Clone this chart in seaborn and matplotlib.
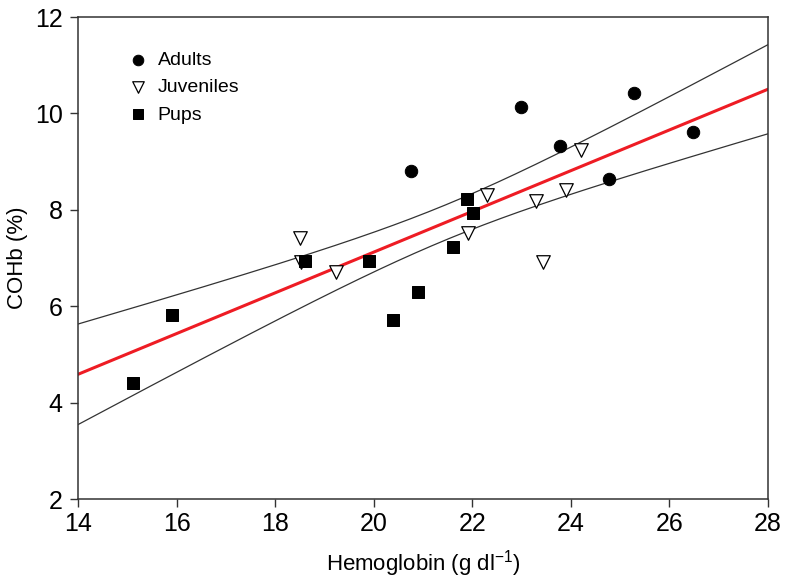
import matplotlib
matplotlib.use("Agg")
import matplotlib.pyplot as plt
import numpy as np
import pandas as pd
import seaborn as sns

# data
adult_hb = [20.75, 22.99, 23.78, 25.29, 26.47, 24.78]
adult_cohb = [8.80, 10.13, 9.32, 10.43, 9.62, 8.63]
juv_hb = [18.50, 18.52, 19.23, 21.92, 22.30, 23.29, 23.90, 24.20, 23.44]
juv_cohb = [7.41, 6.92, 6.70, 7.51, 8.31, 8.19, 8.42, 9.24, 6.92]
pup_hb = [15.12, 15.91, 18.60, 19.90, 20.40, 20.90, 21.61, 21.90, 22.02]
pup_cohb = [4.41, 5.82, 6.93, 6.93, 5.71, 6.29, 7.22, 8.23, 7.93]

sns.set_style("ticks")
plt.rcParams["font.family"] = ["Liberation Sans", "DejaVu Sans"]
plt.rcParams["mathtext.fontset"] = "custom"
plt.rcParams["mathtext.rm"] = "Liberation Sans"
plt.rcParams["mathtext.it"] = "Liberation Sans:italic"
plt.rcParams["text.color"] = "black"
plt.rcParams["axes.labelcolor"] = "black"
plt.rcParams["xtick.labelcolor"] = "black"
plt.rcParams["ytick.labelcolor"] = "black"

df = pd.DataFrame({
    "hb": adult_hb + juv_hb + pup_hb,
    "cohb": adult_cohb + juv_cohb + pup_cohb,
    "group": ["Adults"] * len(adult_hb) + ["Juveniles"] * len(juv_hb) + ["Pups"] * len(pup_hb),
})

# linear fit with 95% confidence band over all animals
x = df["hb"].to_numpy()
y = df["cohb"].to_numpy()
n = len(x)
slope, icpt = np.polyfit(x, y, 1)
resid = y - (icpt + slope * x)
s = np.sqrt(np.sum(resid ** 2) / (n - 2))
sxx = np.sum((x - x.mean()) ** 2)
xs = np.linspace(14, 28, 200)
fit = icpt + slope * xs
half = 2.074 * s * np.sqrt(1 / n + (xs - x.mean()) ** 2 / sxx)

fig = plt.figure(figsize=(7.86, 5.81), dpi=100)
ax = fig.add_axes([0.0992, 0.1411, 0.8779, 0.8296])

sns.lineplot(x=xs, y=fit + half, ax=ax, color="#333333", lw=0.9)
sns.lineplot(x=xs, y=fit - half, ax=ax, color="#333333", lw=0.9)
sns.lineplot(x=xs, y=fit, ax=ax, color="#ee1c24", lw=2.2)

sub = df[df["group"] == "Adults"]
sns.scatterplot(data=sub, x="hb", y="cohb", ax=ax, marker="o", s=80,
                color="black", edgecolor="black", label="Adults", zorder=5)
sub = df[df["group"] == "Juveniles"]
sns.scatterplot(data=sub, x="hb", y="cohb", ax=ax, marker="v", s=95,
                facecolor="white", edgecolor="black", linewidth=0.9,
                label="Juveniles", zorder=5)
sub = df[df["group"] == "Pups"]
sns.scatterplot(data=sub, x="hb", y="cohb", ax=ax, marker="s", s=80,
                color="black", edgecolor="black", label="Pups", zorder=6)

ax.set_xlim(14, 28)
ax.set_ylim(2, 12)
ax.set_xticks(range(14, 29, 2))
ax.set_yticks(range(2, 13, 2))
ax.tick_params(labelsize=18, length=6, width=1, color="#333333")
ax.tick_params(axis="x", pad=3)
ax.tick_params(axis="y", pad=5)
ax.set_xlabel(r"Hemoglobin (g dl$^{\mathregular{-1}}$)", fontsize=16, labelpad=9)
ax.set_ylabel("COHb (%)", fontsize=16, labelpad=5)
for sp in ax.spines.values():
    sp.set_color("#333333")
    sp.set_linewidth(1.1)

ax.legend(loc="upper left", bbox_to_anchor=(0.062, 0.945), frameon=False,
          fontsize=14, handlelength=1.0, handletextpad=0.5, labelspacing=0.5,
          markerscale=0.85, borderaxespad=0)

fig.savefig("out.png", dpi=100)
